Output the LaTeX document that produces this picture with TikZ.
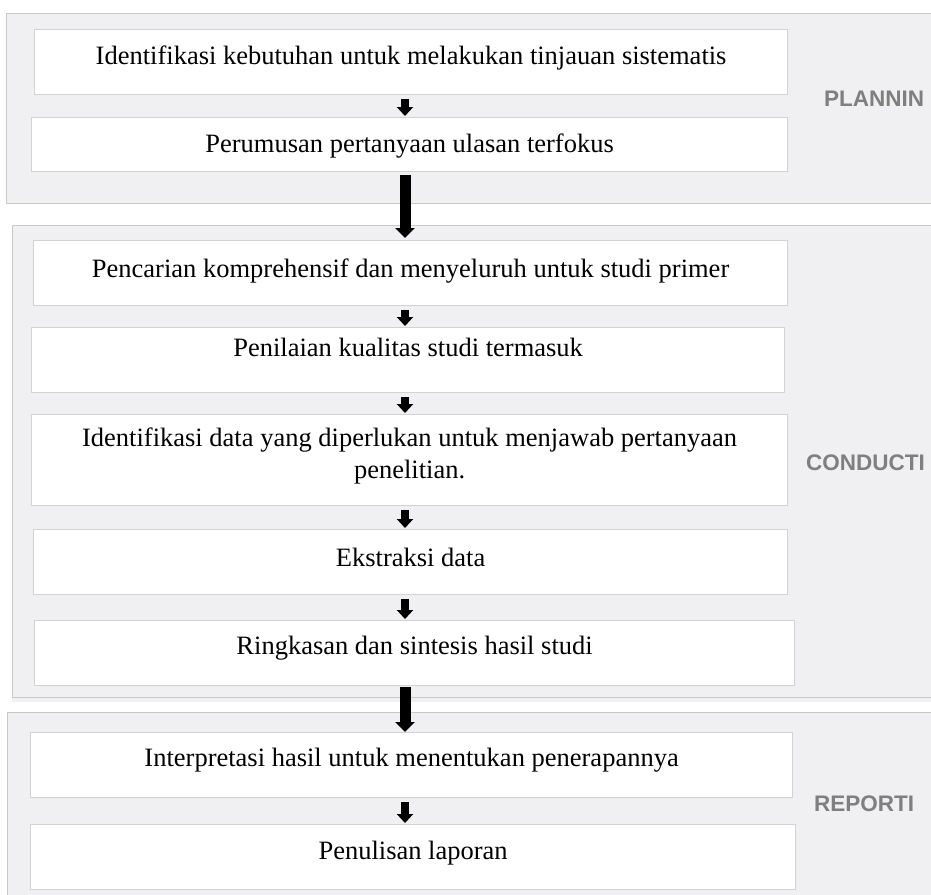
\documentclass[tikz,border=0pt]{standalone}
\usepackage{fontspec}
\setmainfont{Liberation Serif}
\newfontfamily\phasefont{Liberation Sans}
\usepackage{tikz}
\usetikzlibrary{arrows.meta}
\usetikzlibrary{calc}

\definecolor{panelfill}{HTML}{F0F0F2}
\definecolor{panelline}{HTML}{C9C9C9}
\definecolor{boxline}{HTML}{D2D2D2}
\definecolor{phasegray}{HTML}{7F7F7F}

\begin{document}
\begin{tikzpicture}[x=1pt,y=-1pt,
    panel/.style={fill=panelfill,draw=panelline,line width=1pt},
    stepbox/.style={draw=boxline,fill=white,line width=1.2pt,anchor=north west,inner sep=0pt,
      align=center,font=\fontsize{26.5}{32}\selectfont,text height=19pt,text depth=14pt},
    phase/.style={anchor=west,text=phasegray,inner sep=0pt,font=\phasefont\bfseries\fontsize{22.5}{26}\selectfont},
    flow/.style={draw,line width=8pt,-{Triangle[width=16pt,length=9pt]},shorten <=4pt,shorten >=1pt},
    bigflow/.style={draw,line width=11pt,-{Triangle[width=19pt,length=10pt]}}]

  \path[use as bounding box,clip] (0,0) rectangle (931,894);
  \fill[white] (0,0) rectangle (931,894);

  % three phases
  \draw[panel] (6,13) rectangle (945,203);
  \fill[panelfill] (12,697) rectangle (945,702);
  \draw[panel] (12,225) rectangle (945,697);
  \draw[panel] (7,712) rectangle (945,910);

  \node[phase] (plan)    at (824,99)  {PLANNIN};
  \node[phase] (conduct) at (806,463) {CONDUCTI};
  \node[phase] (report)  at (814,804) {REPORTI};

  % steps
  \node[stepbox,minimum width=753pt,minimum height=65pt] (p1) at (34,29)
    {Identifikasi kebutuhan untuk melakukan tinjauan sistematis};
  \node[stepbox,minimum width=756pt,minimum height=54pt,text depth=3pt] (p2) at (31,117)
    {Perumusan pertanyaan ulasan terfokus};

  \node[stepbox,minimum width=754pt,minimum height=65pt,text depth=10pt] (c1) at (33,240)
    {Pencarian komprehensif dan menyeluruh untuk studi primer};
  \node[stepbox,minimum width=753pt,minimum height=65pt,text depth=27pt] (c2) at (31,327)
    {Penilaian kualitas studi termasuk};
  \node[stepbox,minimum width=756pt,minimum height=91pt,text height=51pt,text depth=14.4pt] (c3) at (31,414)
    {Identifikasi data yang diperlukan untuk menjawab pertanyaan\\ penelitian.};
  \node[stepbox,minimum width=754pt,minimum height=65pt,text depth=10pt] (c4) at (33,529)
    {Ekstraksi data};
  \node[stepbox,minimum width=760pt,minimum height=65pt,text depth=16pt] (c5) at (34,620)
    {Ringkasan dan sintesis hasil studi};

  \node[stepbox,minimum width=762pt,minimum height=65pt,text depth=16pt] (r1) at (30,732)
    {Interpretasi hasil untuk menentukan penerapannya};
  \node[stepbox,minimum width=765pt,minimum height=65pt,text depth=14pt] (r2) at (30,824)
    {Penulisan laporan};

  \coordinate (ax) at (405,0);

  \path
    (p1.south -| ax) edge[flow] (p2.north -| ax)
    (c1.south -| ax) edge[flow] (c2.north -| ax)
    (c2.south -| ax) edge[flow] (c3.north -| ax)
    (c3.south -| ax) edge[flow] (c4.north -| ax)
    (c4.south -| ax) edge[flow] (c5.north -| ax)
    (r1.south -| ax) edge[flow] (r2.north -| ax);

  \path
    (p2.south -| ax) edge[bigflow,shorten <=3pt,shorten >=2pt] (c1.north -| ax)
    (c5.south -| ax) edge[bigflow,shorten <=1pt] (r1.north -| ax);

\end{tikzpicture}
\end{document}
